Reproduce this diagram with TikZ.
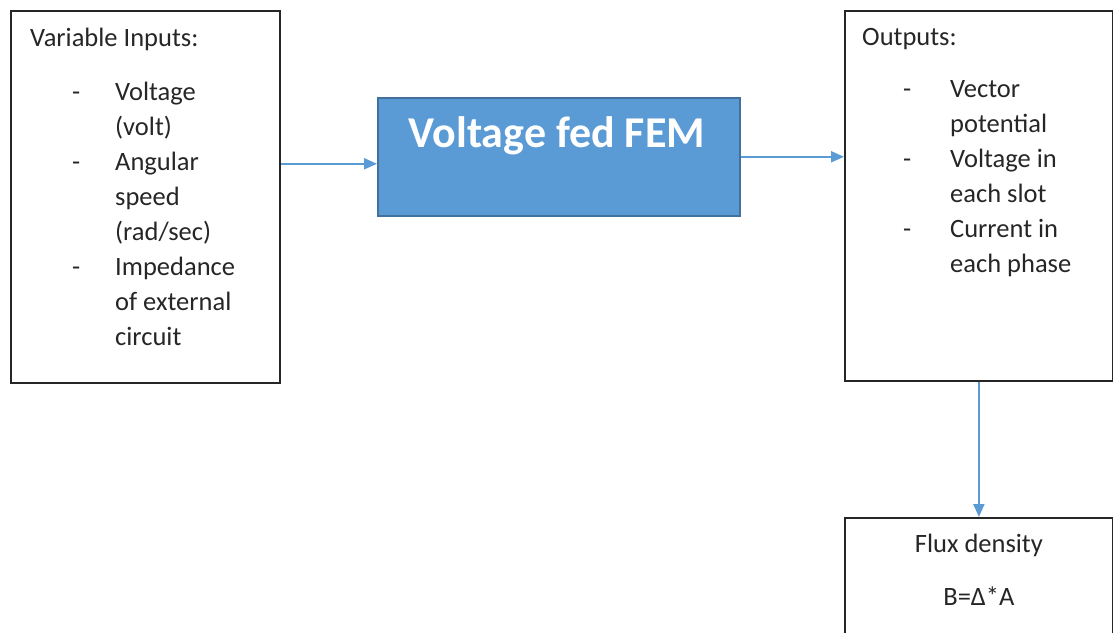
\documentclass[tikz,border=0pt]{standalone}
\usepackage{fontspec}
\setmainfont{Carlito}
\usepackage{xcolor}
\usetikzlibrary{positioning, arrows.meta, calc}
\definecolor{femblue}{HTML}{5B9BD5}
\definecolor{femedge}{HTML}{41719C}
\tikzset{
  box/.style={rectangle, draw=black!85, line width=1.8pt, anchor=north west, inner sep=0pt},
  fembox/.style={rectangle, draw=femedge, fill=femblue, line width=1.6pt, anchor=north west, inner sep=0pt},
  txt/.style={inner sep=0pt, font=\fontsize{26.5}{35}\selectfont, text=black!85},
  femtxt/.style={inner sep=0pt, font=\fontsize{44}{50}\selectfont\bfseries, text=white},
  arr/.style={-{Triangle[length=13pt, width=11pt]}, draw=femblue, line width=2pt},
}
\begin{document}
\begin{tikzpicture}[x=1pt, y=-1pt]
  \useasboundingbox (0,0) rectangle (1113,632);
  % boxes
  \node[box, minimum width=269pt, minimum height=372pt] (inp) at (10,10) {};
  \node[fembox, minimum width=362pt, minimum height=118pt] (fem) at (377,97) {};
  \node[box, minimum width=268pt, minimum height=370pt] (out) at (844,10) {};
  \node[box, minimum width=268pt, minimum height=140pt] (flux) at (844,517) {};
  % texts
  \node[txt, anchor=base west] (inptitle) at (30,46) {Variable Inputs:};
  \node[txt, anchor=base west] (inplist) at (72,100) {%
    \begin{tabular}[t]{@{}p{43pt}@{}l@{}}
      - & Voltage\\
        & (volt)\\
      - & Angular\\
        & speed\\
        & (rad/sec)\\
      - & Impedance\\
        & of external\\
        & circuit
    \end{tabular}};
  \node[femtxt, anchor=base] (femlbl) at ($(fem.north)+(-2,50)$) {Voltage fed FEM};
  \node[txt, anchor=base west] (outtitle) at (862,45) {Outputs:};
  \node[txt, anchor=base west] (outlist) at (903,97) {%
    \begin{tabular}[t]{@{}p{47pt}@{}l@{}}
      - & Vector\\
        & potential\\
      - & Voltage in\\
        & each slot\\
      - & Current in\\
        & each phase
    \end{tabular}};
  \node[txt, anchor=base] (fluxlbl) at ($(flux.north)+(0,35)$) {Flux density};
  \node[txt, anchor=base] (fluxeq) at ($(flux.north)+(0,88)$) {B=Δ*A};
  % connectors
  \draw[arr] ([yshift=-7pt]fem.west -| inp.east) -- ([yshift=-7pt]fem.west);
  \draw[arr] (fem.east) -- (fem.east -| out.west);
  \draw[arr] (out.south) -- (flux.north);
\end{tikzpicture}
\end{document}
